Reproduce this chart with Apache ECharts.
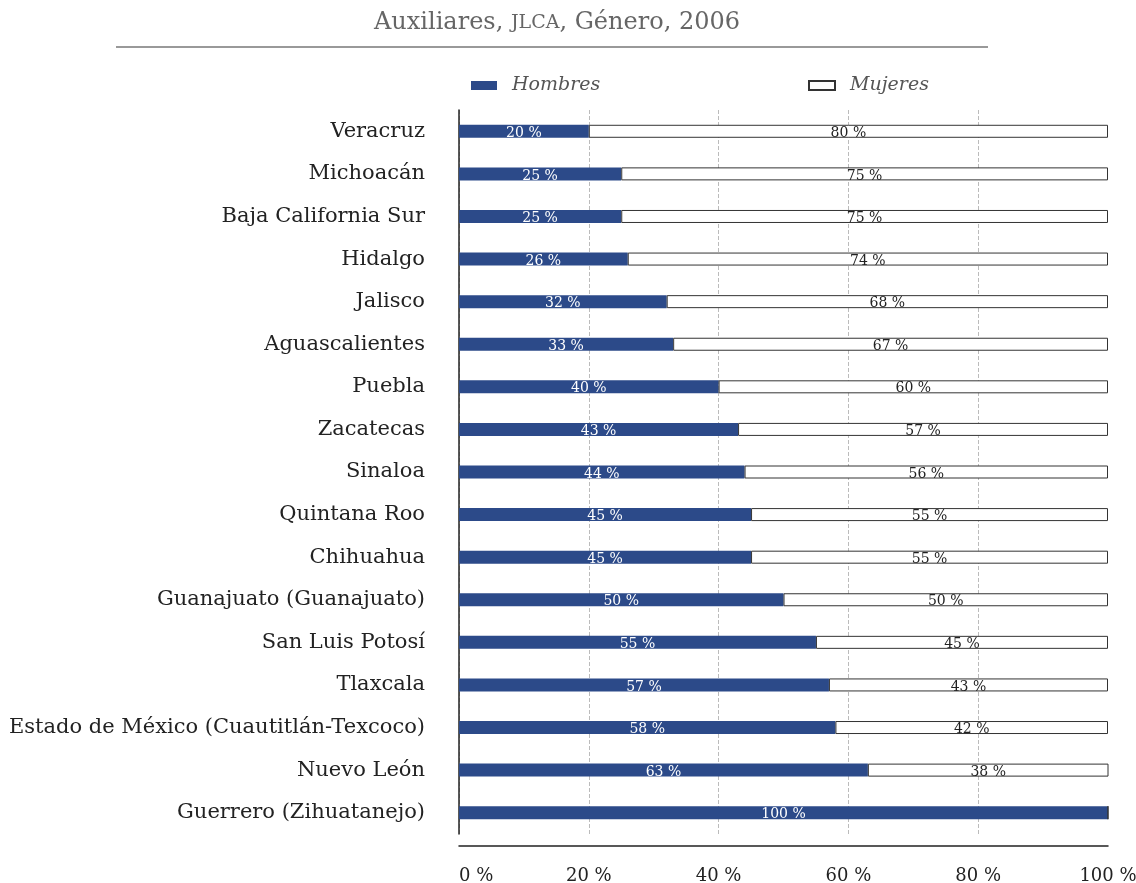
<!DOCTYPE html>
<html>
<head>
    <meta charset="utf-8" />
    <title>Auxiliares, JLCA, Género, 2006</title>
    <script src="https://cdn.jsdelivr.net/npm/echarts@6/dist/echarts.min.js"></script>
    <style type="text/css">
        body { margin: 0; padding: 0; background-color: #ffffff; overflow: hidden; }
        #main { width: 1136px; height: 883px; }
    </style>
</head>
<body>
    <div id="main"></div>
    <script type="text/javascript">
        // datos: porcentaje por entidad
        var estados = ['Veracruz', 'Michoacán', 'Baja California Sur', 'Hidalgo', 'Jalisco', 'Aguascalientes',
            'Puebla', 'Zacatecas', 'Sinaloa', 'Quintana Roo', 'Chihuahua', 'Guanajuato (Guanajuato)',
            'San Luis Potosí', 'Tlaxcala', 'Estado de México (Cuautitlán-Texcoco)', 'Nuevo León', 'Guerrero (Zihuatanejo)'];
        var hombres = [20, 25, 25, 26, 32, 33, 40, 43, 44, 45, 45, 50, 55, 57, 58, 63, 100];
        var mujeres = [80, 75, 75, 74, 68, 67, 60, 57, 56, 55, 55, 50, 45, 43, 42, 38, 0];
        var xTicks = [0, 20, 40, 60, 80, 100];

        var serif = 'DejaVu Serif';
        var azul = '#2c4a89';
        var rejilla = '#bbbbbb';

        var myChart = echarts.init(document.getElementById('main'));

        var option = {
            animation: false,
            backgroundColor: '#ffffff',
            textStyle: { fontFamily: serif },
            title: {
                text: 'Auxiliares, {sc|JLCA}, Género, 2006',
                left: 552,
                top: 6,
                textAlign: 'center',
                textStyle: {
                    fontFamily: serif,
                    fontSize: 24,
                    fontWeight: 'normal',
                    color: '#666666',
                    rich: {
                        sc: { fontFamily: serif, fontSize: 19, color: '#666666' }
                    }
                }
            },
            graphic: [{
                type: 'line',
                shape: { x1: 116, y1: 47, x2: 988, y2: 47 },
                style: { stroke: '#777777', lineWidth: 1.5 }
            }],
            legend: [{
                data: ['Hombres'],
                icon: 'rect',
                left: 466,
                top: 71,
                itemWidth: 26,
                itemHeight: 9,
                textStyle: { fontFamily: serif, fontStyle: 'italic', fontSize: 19, color: '#555555', padding: [0, 0, 0, 10] }
            }, {
                data: ['Mujeres'],
                icon: 'rect',
                left: 803,
                top: 71,
                itemWidth: 26,
                itemHeight: 9,
                textStyle: { fontFamily: serif, fontStyle: 'italic', fontSize: 19, color: '#555555', padding: [0, 0, 0, 10] }
            }],
            grid: {
                left: 459,
                right: 28,
                top: 110,
                bottom: 49,
                containLabel: false,
                outerBoundsMode: 'none'
            },
            xAxis: {
                type: 'value',
                min: 0,
                max: 100,
                interval: 20,
                offset: 12,
                axisLine: { show: true, lineStyle: { color: '#222222', width: 1.5 } },
                axisTick: { show: false },
                axisLabel: {
                    margin: 21,
                    fontFamily: serif,
                    fontSize: 18,
                    color: '#222222',
                    alignMinLabel: 'left',
                    formatter: function (v) { return xTicks.indexOf(v) >= 0 ? v + ' %' : ''; }
                },
                splitLine: {
                    show: true,
                    lineStyle: { color: [rejilla, rejilla, rejilla, rejilla, rejilla, 'rgba(0,0,0,0)'], type: 'dashed', width: 1 }
                }
            },
            yAxis: {
                type: 'category',
                data: estados,
                inverse: true,
                axisLine: { show: true, lineStyle: { color: '#222222', width: 1.5 } },
                axisTick: { show: false },
                axisLabel: {
                    margin: 34,
                    fontFamily: serif,
                    fontSize: 21,
                    color: '#222222'
                }
            },
            series: [{
                name: 'Hombres',
                type: 'bar',
                stack: 'total',
                barWidth: 13,
                data: hombres,
                itemStyle: { color: azul },
                label: {
                    show: true,
                    position: 'inside',
                    offset: [0, 2],
                    fontFamily: serif,
                    fontSize: 14,
                    color: '#ffffff',
                    formatter: '{c} %'
                }
            }, {
                name: 'Mujeres',
                type: 'bar',
                stack: 'total',
                barWidth: 13,
                data: mujeres,
                itemStyle: { color: '#ffffff', borderColor: '#333333', borderWidth: 1 },
                label: {
                    show: true,
                    position: 'inside',
                    offset: [0, 2],
                    fontFamily: serif,
                    fontSize: 14,
                    color: '#222222',
                    formatter: function (p) { return p.value > 0 ? p.value + ' %' : ''; }
                }
            }]
        };

        myChart.setOption(option);
    </script>
</body>
</html>
